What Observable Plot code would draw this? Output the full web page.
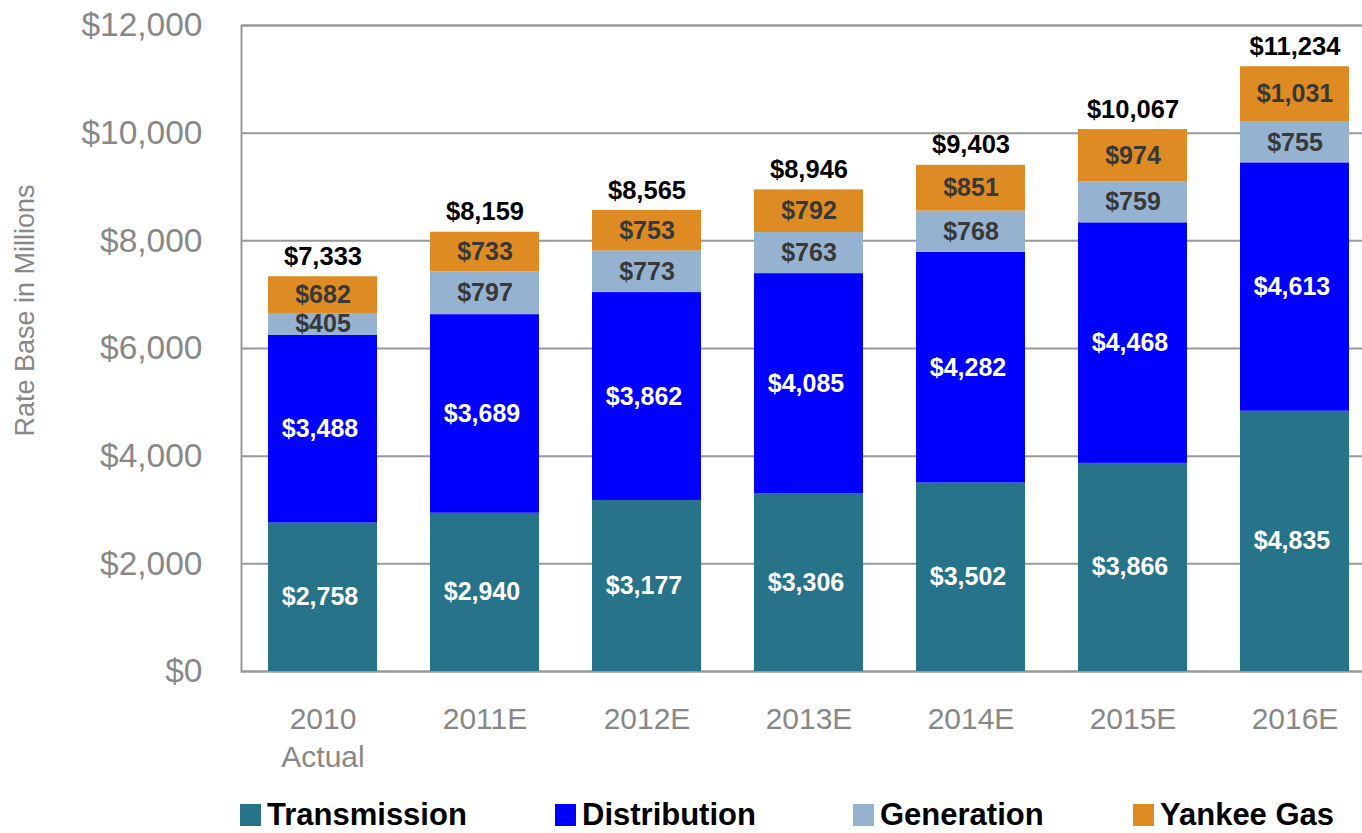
<!DOCTYPE html>
<html>
<head>
<meta charset="utf-8">
<script src="https://cdn.jsdelivr.net/npm/d3@7"></script>
<script src="https://cdn.jsdelivr.net/npm/@observablehq/plot@0.6"></script>
<style>
  html, body { margin: 0; padding: 0; background: #fff; overflow: hidden; }
  body { width: 1362px; height: 833px; font-family: "Liberation Sans", Arial, sans-serif; }
  #chart svg { display: block; overflow: hidden; }
  #legend { position: relative; height: 43px; width: 1362px; }
  .item { position: absolute; top: 7px; display: flex; align-items: center; gap: 6px;
          font: bold 31px "Liberation Sans", Arial, sans-serif; color: #000; line-height: 36px; }
  .sw { width: 21px; height: 22px; display: inline-block; }
</style>
</head>
<body>
<div id="chart"></div>
<div id="legend"></div>
<script>
const years = ["2010\nActual", "2011E", "2012E", "2013E", "2014E", "2015E", "2016E"];
const seriesNames = ["Transmission", "Distribution", "Generation", "Yankee Gas"];
const seriesColors = ["#277389", "#0000ff", "#95b3d1", "#dd8b22"];
const transmission = [2758, 2940, 3177, 3306, 3502, 3866, 4835];
const distribution = [3488, 3689, 3862, 4085, 4282, 4468, 4613];
const generation = [405, 797, 773, 763, 768, 759, 755];
const yankeeGas = [682, 733, 753, 792, 851, 974, 1031];
const totals = [7333, 8159, 8565, 8946, 9403, 10067, 11234];
const yTicks = [0, 2000, 4000, 6000, 8000, 10000, 12000];
const legendX = [240, 555, 853, 1133];

const seriesValues = [transmission, distribution, generation, yankeeGas];
const rows = [];
seriesNames.forEach((s, si) => {
  years.forEach((y, yi) => rows.push({year: y, series: s, value: seriesValues[si][yi]}));
});
const totalRows = years.map((y, i) => ({year: y, total: totals[i]}));

const fmt = d3.format("$,");
const font = "'Liberation Sans', Arial, sans-serif";
const lightSeries = ["Transmission", "Distribution"];

const chart = Plot.plot({
  width: 1362,
  height: 790,
  marginLeft: 241,
  marginRight: -13,
  marginTop: 25,
  marginBottom: 119,
  style: {fontFamily: font, background: "#fff", overflow: "hidden"},
  x: {domain: years, paddingInner: 0.33, paddingOuter: 0.165, label: null},
  y: {domain: [0, 12000], label: null},
  color: {domain: seriesNames, range: seriesColors},
  marks: [
    Plot.ruleY(yTicks, {stroke: "#999999", strokeWidth: 2}),
    Plot.frame({stroke: "#999999", strokeWidth: 2}),
    Plot.barY(rows, Plot.stackY({x: "year", y: "value", z: "series", fill: "series", order: null})),
    Plot.text(rows, Plot.stackY({
      x: "year", y: "value", z: "series", order: null,
      text: d => lightSeries.includes(d.series) ? fmt(d.value) : "",
      fill: "#ffffff", fontSize: 25, fontWeight: "bold", dx: -3
    })),
    Plot.text(rows, Plot.stackY({
      x: "year", y: "value", z: "series", order: null,
      text: d => lightSeries.includes(d.series) ? "" : fmt(d.value),
      fill: "#383838", fontSize: 25, fontWeight: "bold"
    })),
    Plot.text(totalRows, {x: "year", y: "total", text: d => fmt(d.total),
      fill: "#000", fontSize: 25.5, fontWeight: "bold", dy: -20}),
    Plot.axisY({ticks: yTicks, tickSize: 0, tickPadding: 39, tickFormat: fmt,
      fontSize: 33.5, fill: "#888888", label: null}),
    Plot.axisX({tickSize: 0, tickPadding: 31, fontSize: 30, lineHeight: 1.25,
      fill: "#888888", label: null}),
    Plot.text(["Rate Base in Millions"], {frameAnchor: "left", textAnchor: "middle", text: d => d,
      rotate: -90, dx: -216, dy: -38, fontSize: 27, fill: "#888888"})
  ]
});
document.getElementById("chart").appendChild(chart);

const legend = document.getElementById("legend");
seriesNames.forEach((s, i) => {
  const item = document.createElement("div");
  item.className = "item";
  item.style.left = legendX[i] + "px";
  const sw = document.createElement("span");
  sw.className = "sw";
  sw.style.background = seriesColors[i];
  const t = document.createElement("span");
  t.textContent = s;
  item.appendChild(sw);
  item.appendChild(t);
  legend.appendChild(item);
});
</script>
</body>
</html>
